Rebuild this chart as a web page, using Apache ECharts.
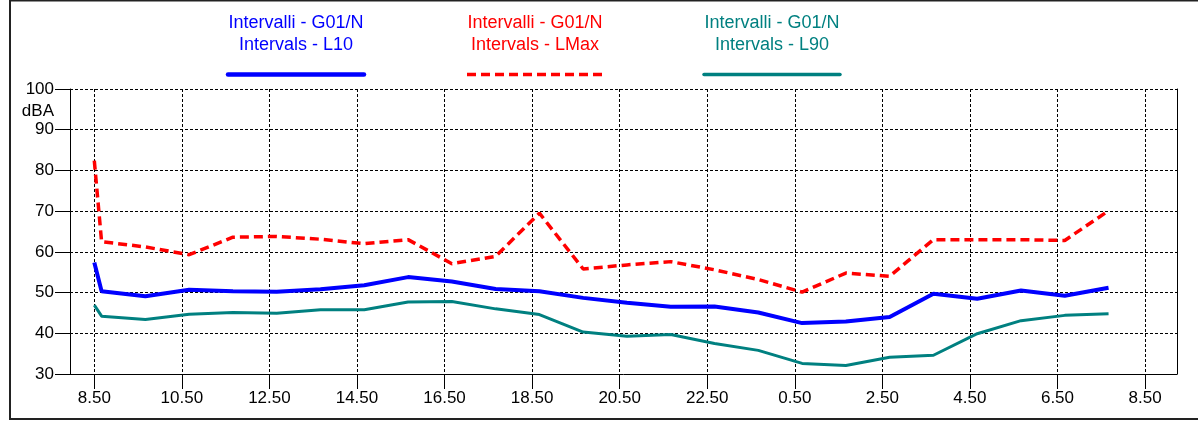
<!DOCTYPE html>
<html>
<head>
<meta charset="utf-8">
<script src="https://cdn.jsdelivr.net/npm/echarts@6/dist/echarts.min.js"></script>
<style>
html,body{margin:0;padding:0;background:#fff;}
#c{width:1198px;height:421px;}
</style>
</head>
<body>
<div id="c"></div>
<script>
// ---- data ----
const times = ['8:50','9:00','10:00','11:00','12:00','13:00','14:00','15:00','16:00','17:00',
  '18:00','19:00','20:00','21:00','22:00','23:00','0:00','1:00','2:00','3:00','4:00','5:00',
  '6:00','7:00','8:00'];
const L10  = [57.4,50.3,49.1,50.7,50.3,50.2,50.8,51.8,53.8,52.7,50.9,50.3,48.7,47.5,46.5,46.6,
  45.1,42.5,42.9,44.0,49.7,48.5,50.5,49.2,51.2];
const LMax = [82.4,62.5,61.2,59.3,63.6,63.8,63.1,62.0,63.0,57.1,58.9,69.5,55.8,56.8,57.6,55.6,
  53.2,50.1,54.8,54.0,63.0,63.0,63.0,62.8,70.1];
const L90  = [46.9,44.2,43.4,44.7,45.1,44.9,45.8,45.8,47.7,47.8,46.0,44.6,40.3,39.3,39.7,37.5,
  35.8,32.6,32.1,34.1,34.6,39.9,43.1,44.4,44.8];
const xTickLabels = ['8.50','10.50','12.50','14.50','16.50','18.50','20.50','22.50','0.50',
  '2.50','4.50','6.50','8.50'];
const seriesNames = ['Intervalli - G01/N\nIntervals - L10','Intervalli - G01/N\nIntervals - LMax',
  'Intervalli - G01/N\nIntervals - L90'];
const seriesColors = ['#0000ff','#ff0000','#008080'];

// convert clock strings (with day wrap) to hours since 0:50 of day 1
function toAxis(list, sep){
  let day = 0, prev = -1;
  return list.map(s => {
    const p = s.split(sep);
    const h = +p[0] + (+p[1]) / 60;
    if (h < prev) day += 24;
    prev = h;
    return h - 50/60 + day;
  });
}
const xs = toAxis(times, ':');
const tickVals = toAxis(xTickLabels, '.').map(v => Math.round(v * 1000) / 1000);
const pairs = arr => arr.map((v, i) => [xs[i], v]);

const font = 'Liberation Sans, Arial, sans-serif';
const chart = echarts.init(document.getElementById('c'), null, {renderer:'canvas'});
const legendCenters = [296, 535, 772];
const legendWidths = [4.5, 3.5, 3.5];

const graphic = [
  {type:'rect', shape:{x:10, y:0.5, width:1300, height:418.5}, silent:true,
   style:{fill:'none', stroke:'#222', lineWidth:2}},
  {type:'text', x:54, y:111, silent:true,
   style:{text:'dBA', fill:'#000', font:'17px ' + font, align:'right', verticalAlign:'middle'}}
];
seriesNames.forEach((n, i) => {
  graphic.push({type:'text', x:legendCenters[i], y:34, silent:true,
    style:{text:n, fill:seriesColors[i], font:'18px ' + font, align:'center',
      verticalAlign:'middle', lineHeight:22}});
  graphic.push({type:'line', silent:true,
    shape:{x1:legendCenters[i]-68, y1:74.5, x2:legendCenters[i]+68, y2:74.5},
    style:{stroke:seriesColors[i], lineWidth:legendWidths[i],
      lineCap: i === 1 ? 'butt' : 'round', lineDash: i === 1 ? [9,5] : null}});
});

const axisText = {color:'#000', fontSize:17, fontFamily:font};
chart.setOption({
  animation:false,
  backgroundColor:'#fff',
  grid:{left:70, top:89, right:21, bottom:47},
  xAxis:{
    type:'value', min:7.445, max:32.73,
    axisLine:{show:true, onZero:false, lineStyle:{color:'#000', width:1}},
    axisTick:{show:true, length:15, customValues:tickVals, lineStyle:{color:'#000'}},
    axisLabel:Object.assign({customValues:tickVals, margin:16,
      formatter:v => { const i = tickVals.indexOf(Math.round(v*1000)/1000); return i >= 0 ? xTickLabels[i] : ''; }}, axisText),
    splitLine:{show:true, lineStyle:{type:[3,2], color:'#000', width:1}}
  },
  yAxis:[{
    type:'value', min:30, max:100, interval:10,
    axisLine:{show:true, lineStyle:{color:'#000', width:1}},
    axisTick:{show:true, length:15, lineStyle:{color:'#000'}},
    axisLabel:Object.assign({margin:16}, axisText),
    splitLine:{show:true, lineStyle:{type:[3,2], color:'#000', width:1}}
  },{
    type:'value', position:'right', min:30, max:100, interval:10,
    axisLine:{show:true, lineStyle:{color:'#000', width:1}},
    axisTick:{show:false}, axisLabel:{show:false}, splitLine:{show:false}
  }],
  series:[
    {name:seriesNames[0], type:'line', data:pairs(L10), showSymbol:false, z:3,
     lineStyle:{color:seriesColors[0], width:4}, itemStyle:{color:seriesColors[0]}},
    {name:seriesNames[1], type:'line', data:pairs(LMax), showSymbol:false, z:4,
     lineStyle:{color:seriesColors[1], width:3.5, type:[9,5]}, itemStyle:{color:seriesColors[1]}},
    {name:seriesNames[2], type:'line', data:pairs(L90), showSymbol:false, z:2,
     lineStyle:{color:seriesColors[2], width:3}, itemStyle:{color:seriesColors[2]}}
  ],
  graphic:graphic
});
</script>
</body>
</html>
